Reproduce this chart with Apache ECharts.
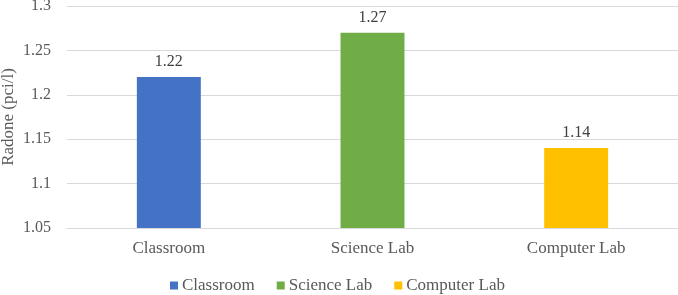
<!DOCTYPE html>
<html>
<head>
<meta charset="utf-8">
<script src="https://cdn.jsdelivr.net/npm/echarts@6/dist/echarts.min.js"></script>
<style>
  html, body { margin: 0; padding: 0; background: #fff; }
  #chart { width: 678px; height: 295px; }
</style>
</head>
<body>
<div id="chart"></div>
<script>
// rooms and measured radon values
var categories = ['Classroom', 'Science Lab', 'Computer Lab'];
var radonValues = [1.22, 1.27, 1.14];
var barColors = ['#4472c4', '#70ad47', '#ffc000'];
var yTicks = { min: 1.05, max: 1.3, step: 0.05 };

var font = '"Liberation Serif", "Times New Roman", serif';

// one series per room so the legend gets three entries
var series = categories.map(function (name, i) {
    var d = categories.map(function (c, j) { return j === i ? radonValues[i] : '-'; });
    return {
        name: name,
        type: 'bar',
        stack: 'rooms',
        barWidth: '31.4%',
        data: d,
        itemStyle: { color: barColors[i] },
        label: {
            show: true,
            position: 'top',
            distance: 7,
            color: '#404040',
            fontFamily: font,
            fontSize: 16,
            formatter: function (p) { return p.value; }
        }
    };
});

var chart = echarts.init(document.getElementById('chart'), null, { renderer: 'canvas' });
chart.setOption({
    animation: false,
    textStyle: { fontFamily: font },
    grid: { left: 67, right: 0, top: 6, bottom: 67, outerBoundsMode: 'none', containLabel: false },
    legend: {
        bottom: 1,
        left: 170,
        padding: 0,
        itemWidth: 8,
        itemHeight: 8,
        itemGap: 22,
        icon: 'rect',
        textStyle: { color: '#595959', fontFamily: font, fontSize: 17, padding: [0, 0, 0, -1] },
        data: categories
    },
    xAxis: {
        type: 'category',
        data: categories,
        axisTick: { show: false },
        axisLine: { lineStyle: { color: '#d9d9d9', width: 1 } },
        axisLabel: { color: '#595959', fontFamily: font, fontSize: 17, margin: 12 }
    },
    yAxis: {
        type: 'value',
        min: yTicks.min,
        max: yTicks.max,
        interval: yTicks.step,
        name: 'Radone (pci/l)',
        nameLocation: 'middle',
        nameGap: 50,
        nameMoveOverlap: false,
        nameTextStyle: { color: '#595959', fontFamily: font, fontSize: 17 },
        axisLine: { show: false },
        axisTick: { show: false },
        splitLine: { lineStyle: { color: '#d9d9d9', width: 1 } },
        axisLabel: {
            color: '#595959', fontFamily: font, fontSize: 16, margin: 16,
            formatter: function (v) { return String(Math.round(v * 100) / 100); }
        }
    },
    series: series
});
</script>
</body>
</html>
